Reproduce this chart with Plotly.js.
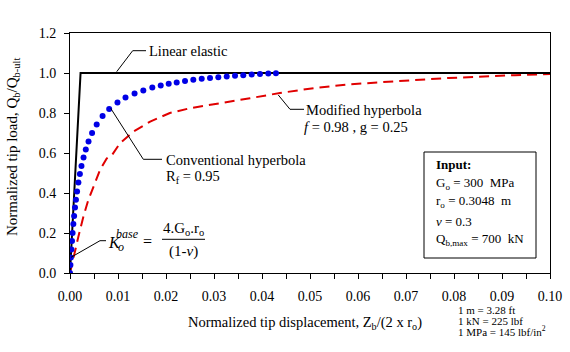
<!DOCTYPE html>
<html>
<head>
<meta charset="utf-8">
<script src="https://cdn.plot.ly/plotly-3.0.1.min.js"></script>
<style>html,body{margin:0;padding:0;background:#fff;}#chart{width:570px;height:352px;}</style>
</head>
<body>
<div id="chart"></div>
<script>
// ---- data ----
var linearX = [0, 0.0022, 0.1];
var linearY = [0, 1.0, 1.0];

var convX = [0, 0.00009, 0.00019, 0.00029, 0.00042, 0.00054, 0.0007, 0.00086, 0.00104, 0.00124, 0.00147, 0.00175,
  0.00206, 0.00239, 0.00282, 0.00329, 0.00386, 0.0046, 0.00556, 0.00679, 0.00816, 0.00989, 0.01156, 0.01345,
  0.01527, 0.01715, 0.0189, 0.02056, 0.02223, 0.02396, 0.02569, 0.02744, 0.02917, 0.0309, 0.03265, 0.03438,
  0.0361, 0.03785, 0.03958, 0.04131, 0.0429];
var convY = [0, 0.04, 0.078, 0.118, 0.16, 0.2, 0.245, 0.285, 0.327, 0.366, 0.408, 0.453,
  0.495, 0.535, 0.578, 0.618, 0.658, 0.7, 0.743, 0.785, 0.82, 0.853, 0.877, 0.898,
  0.913, 0.927, 0.938, 0.946, 0.953, 0.96, 0.966, 0.971, 0.975, 0.979, 0.983, 0.986,
  0.989, 0.992, 0.9945, 0.997, 0.999];

var modX = [0, 0.00035, 0.00104, 0.00173, 0.00277, 0.00381, 0.0052, 0.00625, 0.00765, 0.00875, 0.0104, 0.0132,
  0.0167, 0.0208, 0.025, 0.0292, 0.0333, 0.0375, 0.04375, 0.051, 0.0579, 0.0648, 0.0719, 0.0788, 0.0856, 0.0927, 0.1];
var modY = [0, 0.04, 0.115, 0.18, 0.28, 0.365, 0.45, 0.515, 0.573, 0.59, 0.648, 0.707,
  0.757, 0.8, 0.824, 0.84, 0.857, 0.874, 0.9, 0.925, 0.943, 0.955, 0.965, 0.975, 0.983, 0.989, 0.995];

var xTickVals = [0, 0.01, 0.02, 0.03, 0.04, 0.05, 0.06, 0.07, 0.08, 0.09, 0.1];
var xTickText = ["0.00","0.01","0.02","0.03","0.04","0.05","0.06","0.07","0.08","0.09","0.10"];
var yTickVals = [0, 0.2, 0.4, 0.6, 0.8, 1.0, 1.2];
var yTickText = ["0.0","0.2","0.4","0.6","0.8","1.0","1.2"];

// ---- layout geometry (pixels) ----
var W = 570, H = 352, L = 70, R = 550, T = 33, B = 273;
var XMAX = 0.1, YMAX = 1.2;
function dx(px){ return (px - L) / (R - L) * XMAX; }
function dy(py){ return (B - py) / (B - T) * YMAX; }
function px(p){ return (p - L) / (R - L); }
function py(p){ return (B - p) / (B - T); }

var FONT = "Liberation Serif";

var traces = [
  {x: modX, y: modY, type: "scatter", mode: "lines",
   line: {color: "#e00000", width: 2, dash: "10px,6px"}, hoverinfo: "skip"},
  {x: linearX, y: linearY, type: "scatter", mode: "lines",
   line: {color: "#000000", width: 2}, hoverinfo: "skip"},
  {x: convX, y: convY, type: "scatter", mode: "markers",
   marker: {color: "#0000e6", size: 6}, hoverinfo: "skip"}
];

function mk(xref, x, y, s, opts){
  var a = {xref: xref === "d" ? "x" : "paper", yref: xref === "d" ? "y" : "paper",
    x: xref === "d" ? dx(x) : px(x), y: xref === "d" ? dy(y) : py(y),
    text: s, showarrow: false,
    xanchor: "left", yanchor: "middle", font: {family: FONT, size: 14.5, color: "#000"}};
  if (opts) for (var k in opts) { if (k === "size") a.font.size = opts[k]; else a[k] = opts[k]; }
  return a;
}
function txt(x, y, s, o){ return mk("d", x, y, s, o); }
function ptxt(x, y, s, o){ return mk("p", x, y, s, o); }
function seg(x0, y0, x1, y1, w){
  return {type: "line", xref: "x", yref: "y", x0: dx(x0), y0: dy(y0), x1: dx(x1), y1: dy(y1),
    line: {color: "#000", width: w || 1}};
}

var annotations = [
  txt(147, 50.5, "Linear elastic"),
  txt(304, 109.5, "Modified hyperbola"),
  txt(302, 126.5, "<i>f</i> = 0.98 , g = 0.25"),
  txt(164, 159.5, "Conventional hyperbola"),
  txt(164, 177, "R<sub>f</sub> = 0.95"),
  txt(106, 242, "<i>K</i>", {size: 16}),
  txt(115.5, 246.5, "<i>o</i>", {size: 12}),
  txt(114, 233.5, "<i>base</i>", {size: 12}),
  txt(141, 241.5, "=", {size: 16}),
  txt(183.5, 229, "4.G<sub>o</sub>.r<sub>o</sub>", {xanchor: "center", size: 15}),
  txt(183.5, 251.5, "(1-<i>ν</i>)", {xanchor: "center", size: 15}),
  txt(434, 164, "<b>Input:</b>", {size: 13}),
  txt(434, 183, "G<sub>o</sub> = 300  MPa", {size: 13}),
  txt(434, 201, "r<sub>o</sub> = 0.3048  m", {size: 13}),
  txt(434, 221, "<i>ν</i> = 0.3", {size: 13}),
  txt(434, 239.5, "Q<sub>b,max</sub> = 700  kN", {size: 13}),
  ptxt(305, 323, "Normalized tip displacement, Z<sub>b</sub>/(2 x r<sub>o</sub>)", {xanchor: "center"}),
  ptxt(13, 147, "Normalized tip load, Q<sub>b</sub>/Q<sub>b-ult</sub>", {xanchor: "center", textangle: -90, size: 15}),
  ptxt(456, 310, "1 m = 3.28 ft", {size: 11}),
  ptxt(456, 320.5, "1 kN = 225 lbf", {size: 11}),
  ptxt(456, 331, "1 MPa = 145 lbf/in<sup>2</sup>", {size: 11})
];

var shapes = [
  {type: "rect", xref: "x", yref: "y", x0: dx(424), x1: dx(536), y0: dy(152), y1: dy(258),
   line: {color: "#000", width: 1}, fillcolor: "#fff", layer: "below"},
  // leader lines
  seg(116.7, 71.7, 132.7, 50.7), seg(132.7, 50.7, 146, 50.7),
  seg(278.3, 95, 290, 109.3), seg(290, 109.3, 304, 109.3),
  seg(110.7, 108.3, 143.3, 159.3), seg(143.3, 159.3, 162, 159.3),
  seg(71, 257.3, 100, 240.7), seg(100, 240.7, 106, 240.7),
  // fraction bar
  seg(162, 239.3, 205, 239.3)
];

var layout = {
  width: W, height: H,
  margin: {l: L, r: W - R, t: T, b: H - B, pad: 0},
  paper_bgcolor: "#fff", plot_bgcolor: "#fff",
  showlegend: false,
  font: {family: FONT, size: 14, color: "#000"},
  xaxis: {range: [0, XMAX], tickvals: xTickVals, ticktext: xTickText,
    ticks: "outside", ticklen: 5, tickcolor: "#000", tickwidth: 1, ticklabelstandoff: 5,
    minor: {dtick: 0.005, tick0: 0, ticks: "outside", ticklen: 5, tickcolor: "#000", tickwidth: 1, showgrid: false},
    showline: true, linecolor: "#000", linewidth: 1, mirror: true,
    showgrid: false, zeroline: false, tickfont: {family: FONT, size: 14}, fixedrange: true},
  yaxis: {range: [0, YMAX], tickvals: yTickVals, ticktext: yTickText,
    ticks: "outside", ticklen: 5, tickcolor: "#000", tickwidth: 1, ticklabelstandoff: 5,
    showline: true, linecolor: "#000", linewidth: 1, mirror: true,
    showgrid: false, zeroline: false, tickfont: {family: FONT, size: 14}, fixedrange: true},
  annotations: annotations,
  shapes: shapes
};

Plotly.newPlot("chart", traces, layout, {staticPlot: true, displayModeBar: false});
</script>
</body>
</html>
